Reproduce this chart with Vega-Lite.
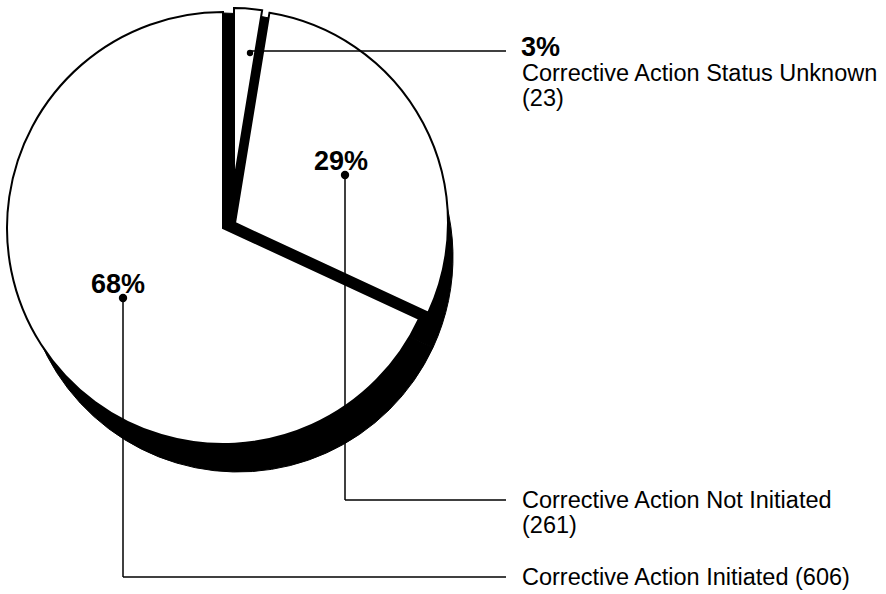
{
  "$schema": "https://vega.github.io/schema/vega-lite/v6.json",
  "width": 886,
  "height": 594,
  "autosize": {"type": "fit", "contains": "padding"},
  "padding": 0,
  "background": "white",
  "config": {"view": {"stroke": null}, "text": {"font": "Liberation Sans", "color": "black"}},
  "data": {"values": [
    {"status": "Corrective Action Status Unknown", "count": 23},
    {"status": "Corrective Action Not Initiated", "count": 261},
    {"status": "Corrective Action Initiated", "count": 606}
  ]},
  "transform": [
    {"joinaggregate": [{"op": "sum", "field": "count", "as": "total"}]},
    {"calculate": "round(datum.count / datum.total * 100) + '%'", "as": "pct"}
  ],
  "layer": [
    {
      "mark": {"type": "arc", "radius": 215, "fill": "black", "stroke": "black", "strokeWidth": 1},
      "encoding": {
        "theta": {"field": "count", "type": "quantitative"},
        "x": {"datum": 238, "type": "quantitative", "scale": {"domain": [0, 886], "nice": false, "zero": false}, "axis": null},
        "y": {"datum": 257, "type": "quantitative", "scale": {"domain": [0, 594], "nice": false, "zero": false, "reverse": true}, "axis": null}
      }
    },
    {
      "mark": {"type": "arc", "radius": 215, "fill": "black", "stroke": "black", "strokeWidth": 1},
      "encoding": {
        "theta": {"field": "count", "type": "quantitative"},
        "x": {"datum": 223, "type": "quantitative", "scale": {"domain": [0, 886], "nice": false, "zero": false}, "axis": null},
        "y": {"datum": 228, "type": "quantitative", "scale": {"domain": [0, 594], "nice": false, "zero": false, "reverse": true}, "axis": null}
      }
    },
    {
      "mark": {"type": "arc", "radius": 216, "fill": "white", "stroke": "black", "strokeWidth": 2},
      "encoding": {
        "theta": {"field": "count", "type": "quantitative"},
        "opacity": {"condition": {"test": "datum.status === 'Corrective Action Initiated'", "value": 1}, "value": 0},
        "x": {"datum": 223, "type": "quantitative", "scale": {"domain": [0, 886], "nice": false, "zero": false}, "axis": null},
        "y": {"datum": 228, "type": "quantitative", "scale": {"domain": [0, 594], "nice": false, "zero": false, "reverse": true}, "axis": null}
      }
    },
    {
      "mark": {"type": "arc", "radius": 213, "fill": "white", "stroke": "black", "strokeWidth": 2},
      "encoding": {
        "theta": {"field": "count", "type": "quantitative"},
        "opacity": {"condition": {"test": "datum.status === 'Corrective Action Not Initiated'", "value": 1}, "value": 0},
        "x": {"datum": 235, "type": "quantitative", "scale": {"domain": [0, 886], "nice": false, "zero": false}, "axis": null},
        "y": {"datum": 223, "type": "quantitative", "scale": {"domain": [0, 594], "nice": false, "zero": false, "reverse": true}, "axis": null}
      }
    },
    {
      "mark": {"type": "arc", "radius": 174, "fill": "white", "stroke": "black", "strokeWidth": 2},
      "encoding": {
        "theta": {"field": "count", "type": "quantitative"},
        "opacity": {"condition": {"test": "datum.status === 'Corrective Action Status Unknown'", "value": 1}, "value": 0},
        "x": {"datum": 234, "type": "quantitative", "scale": {"domain": [0, 886], "nice": false, "zero": false}, "axis": null},
        "y": {"datum": 182, "type": "quantitative", "scale": {"domain": [0, 594], "nice": false, "zero": false, "reverse": true}, "axis": null}
      }
    },
    {
      "transform": [{"filter": "datum.status === 'Corrective Action Status Unknown'"}],
      "mark": {"type": "rule", "stroke": "black", "strokeWidth": 1.5},
      "encoding": {
        "x": {"datum": 250, "type": "quantitative", "scale": {"domain": [0, 886], "nice": false, "zero": false}, "axis": null},
        "x2": {"datum": 506},
        "y": {"datum": 51, "type": "quantitative", "scale": {"domain": [0, 594], "nice": false, "zero": false, "reverse": true}, "axis": null}
      }
    },
    {
      "transform": [{"filter": "datum.status === 'Corrective Action Not Initiated'"}],
      "mark": {"type": "rule", "stroke": "black", "strokeWidth": 1.5},
      "encoding": {
        "x": {"datum": 345, "type": "quantitative", "scale": {"domain": [0, 886], "nice": false, "zero": false}, "axis": null},
        "y": {"datum": 175, "type": "quantitative", "scale": {"domain": [0, 594], "nice": false, "zero": false, "reverse": true}, "axis": null},
        "y2": {"datum": 500}
      }
    },
    {
      "transform": [{"filter": "datum.status === 'Corrective Action Not Initiated'"}],
      "mark": {"type": "rule", "stroke": "black", "strokeWidth": 1.5},
      "encoding": {
        "x": {"datum": 345, "type": "quantitative", "scale": {"domain": [0, 886], "nice": false, "zero": false}, "axis": null},
        "x2": {"datum": 506},
        "y": {"datum": 500, "type": "quantitative", "scale": {"domain": [0, 594], "nice": false, "zero": false, "reverse": true}, "axis": null}
      }
    },
    {
      "transform": [{"filter": "datum.status === 'Corrective Action Initiated'"}],
      "mark": {"type": "rule", "stroke": "black", "strokeWidth": 1.5},
      "encoding": {
        "x": {"datum": 123, "type": "quantitative", "scale": {"domain": [0, 886], "nice": false, "zero": false}, "axis": null},
        "y": {"datum": 298, "type": "quantitative", "scale": {"domain": [0, 594], "nice": false, "zero": false, "reverse": true}, "axis": null},
        "y2": {"datum": 577}
      }
    },
    {
      "transform": [{"filter": "datum.status === 'Corrective Action Initiated'"}],
      "mark": {"type": "rule", "stroke": "black", "strokeWidth": 1.5},
      "encoding": {
        "x": {"datum": 123, "type": "quantitative", "scale": {"domain": [0, 886], "nice": false, "zero": false}, "axis": null},
        "x2": {"datum": 506},
        "y": {"datum": 577, "type": "quantitative", "scale": {"domain": [0, 594], "nice": false, "zero": false, "reverse": true}, "axis": null}
      }
    },
    {
      "transform": [{"filter": "datum.status === 'Corrective Action Status Unknown'"}],
      "mark": {"type": "point", "filled": true, "color": "black", "opacity": 1, "size": 40},
      "encoding": {
        "x": {"datum": 250, "type": "quantitative", "scale": {"domain": [0, 886], "nice": false, "zero": false}, "axis": null},
        "y": {"datum": 53, "type": "quantitative", "scale": {"domain": [0, 594], "nice": false, "zero": false, "reverse": true}, "axis": null}
      }
    },
    {
      "transform": [{"filter": "datum.status === 'Corrective Action Not Initiated'"}],
      "mark": {"type": "point", "filled": true, "color": "black", "opacity": 1, "size": 70},
      "encoding": {
        "x": {"datum": 345, "type": "quantitative", "scale": {"domain": [0, 886], "nice": false, "zero": false}, "axis": null},
        "y": {"datum": 175, "type": "quantitative", "scale": {"domain": [0, 594], "nice": false, "zero": false, "reverse": true}, "axis": null}
      }
    },
    {
      "transform": [{"filter": "datum.status === 'Corrective Action Initiated'"}],
      "mark": {"type": "point", "filled": true, "color": "black", "opacity": 1, "size": 70},
      "encoding": {
        "x": {"datum": 123, "type": "quantitative", "scale": {"domain": [0, 886], "nice": false, "zero": false}, "axis": null},
        "y": {"datum": 298, "type": "quantitative", "scale": {"domain": [0, 594], "nice": false, "zero": false, "reverse": true}, "axis": null}
      }
    },
    {
      "transform": [{"filter": "datum.status === 'Corrective Action Status Unknown'"}],
      "mark": {"type": "text", "fontWeight": "bold", "fontSize": 27, "align": "left", "baseline": "alphabetic"},
      "encoding": {
        "text": {"field": "pct"},
        "x": {"datum": 521, "type": "quantitative", "scale": {"domain": [0, 886], "nice": false, "zero": false}, "axis": null},
        "y": {"datum": 56, "type": "quantitative", "scale": {"domain": [0, 594], "nice": false, "zero": false, "reverse": true}, "axis": null}
      }
    },
    {
      "transform": [{"filter": "datum.status === 'Corrective Action Not Initiated'"}],
      "mark": {"type": "text", "fontWeight": "bold", "fontSize": 27, "align": "center", "baseline": "alphabetic"},
      "encoding": {
        "text": {"field": "pct"},
        "x": {"datum": 341, "type": "quantitative", "scale": {"domain": [0, 886], "nice": false, "zero": false}, "axis": null},
        "y": {"datum": 170, "type": "quantitative", "scale": {"domain": [0, 594], "nice": false, "zero": false, "reverse": true}, "axis": null}
      }
    },
    {
      "transform": [{"filter": "datum.status === 'Corrective Action Initiated'"}],
      "mark": {"type": "text", "fontWeight": "bold", "fontSize": 27, "align": "center", "baseline": "alphabetic"},
      "encoding": {
        "text": {"field": "pct"},
        "x": {"datum": 118, "type": "quantitative", "scale": {"domain": [0, 886], "nice": false, "zero": false}, "axis": null},
        "y": {"datum": 293, "type": "quantitative", "scale": {"domain": [0, 594], "nice": false, "zero": false, "reverse": true}, "axis": null}
      }
    },
    {
      "transform": [
        {"filter": "datum.status === 'Corrective Action Status Unknown'"},
        {"calculate": "datum.status + '\\n(' + datum.count + ')'", "as": "label"}
      ],
      "mark": {"type": "text", "fontSize": 23.5, "align": "left", "baseline": "alphabetic", "lineBreak": "\n", "lineHeight": 25},
      "encoding": {
        "text": {"field": "label"},
        "x": {"datum": 522, "type": "quantitative", "scale": {"domain": [0, 886], "nice": false, "zero": false}, "axis": null},
        "y": {"datum": 81, "type": "quantitative", "scale": {"domain": [0, 594], "nice": false, "zero": false, "reverse": true}, "axis": null}
      }
    },
    {
      "transform": [
        {"filter": "datum.status === 'Corrective Action Not Initiated'"},
        {"calculate": "datum.status + '\\n(' + datum.count + ')'", "as": "label"}
      ],
      "mark": {"type": "text", "fontSize": 23.5, "align": "left", "baseline": "alphabetic", "lineBreak": "\n", "lineHeight": 25},
      "encoding": {
        "text": {"field": "label"},
        "x": {"datum": 522, "type": "quantitative", "scale": {"domain": [0, 886], "nice": false, "zero": false}, "axis": null},
        "y": {"datum": 508, "type": "quantitative", "scale": {"domain": [0, 594], "nice": false, "zero": false, "reverse": true}, "axis": null}
      }
    },
    {
      "transform": [
        {"filter": "datum.status === 'Corrective Action Initiated'"},
        {"calculate": "datum.status + ' (' + datum.count + ')'", "as": "label"}
      ],
      "mark": {"type": "text", "fontSize": 23.5, "align": "left", "baseline": "alphabetic"},
      "encoding": {
        "text": {"field": "label"},
        "x": {"datum": 522, "type": "quantitative", "scale": {"domain": [0, 886], "nice": false, "zero": false}, "axis": null},
        "y": {"datum": 585, "type": "quantitative", "scale": {"domain": [0, 594], "nice": false, "zero": false, "reverse": true}, "axis": null}
      }
    }
  ]
}
